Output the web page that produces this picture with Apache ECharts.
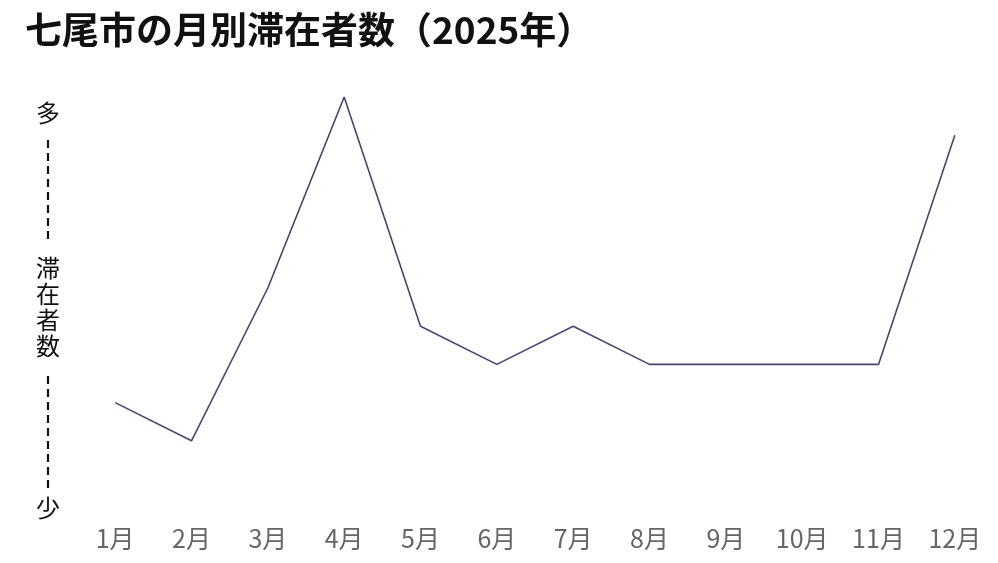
<!DOCTYPE html>
<html>
<head>
<meta charset="utf-8">
<style>
  html, body { margin: 0; padding: 0; background: #fff; }
  #chart { width: 998px; height: 563px; }
</style>
<script src="https://cdn.jsdelivr.net/npm/echarts@6/dist/echarts.min.js"></script>
</head>
<body>
<div id="chart"></div>
<script>
// 月
const months = ["1月", "2月", "3月", "4月", "5月", "6月", "7月", "8月", "9月", "10月", "11月", "12月"];
// 滞在者数（相対値、目盛りなし）
const visitors = [2, 1, 5, 10, 4, 3, 4, 3, 3, 3, 3, 9];

const font = "'Noto Sans CJK JP', 'Noto Sans', sans-serif";
const chart = echarts.init(document.getElementById("chart"));

const option = {
    animation: false,
    title: {
        text: "七尾市の月別滞在者数（2025年）",
        left: 20,
        top: 6,
        textStyle: { fontFamily: font, fontSize: 37, fontWeight: "bold", color: "#111" },
    },
    grid: { left: 77, right: 5, top: 97, bottom: 84 },
    xAxis: {
        type: "category",
        data: months,
        boundaryGap: true,
        axisLine: { show: false },
        axisTick: { show: false },
        axisLabel: { margin: 47, fontFamily: font, fontSize: 25, color: "#666" },
    },
    yAxis: {
        type: "value",
        min: 0,
        max: 10,
        axisLine: { show: false },
        axisTick: { show: false },
        axisLabel: { show: false },
        splitLine: { show: false },
    },
    // 縦軸の「多 / 滞在者数 / 少」表示
    graphic: [
        { type: "text", left: 36, top: 101, style: { text: "多", font: "24px " + font, fill: "#111" } },
        { type: "line", shape: { x1: 48, y1: 140, x2: 48, y2: 243 }, style: { stroke: "#111", lineWidth: 2.2, lineDash: [8, 5] } },
        { type: "text", left: 36, top: 255, style: { text: "滞\n在\n者\n数", font: "24px " + font, lineHeight: 26, fill: "#111" } },
        { type: "line", shape: { x1: 48, y1: 376, x2: 48, y2: 488 }, style: { stroke: "#111", lineWidth: 2.2, lineDash: [8, 5] } },
        { type: "text", left: 36, top: 496, style: { text: "少", font: "24px " + font, fill: "#111" } },
    ],
    series: [
        {
            type: "line",
            data: visitors,
            symbol: "none",
            lineStyle: { color: "#4b4370", width: 1.6 },
        },
    ],
};
chart.setOption(option);
</script>
</body>
</html>
